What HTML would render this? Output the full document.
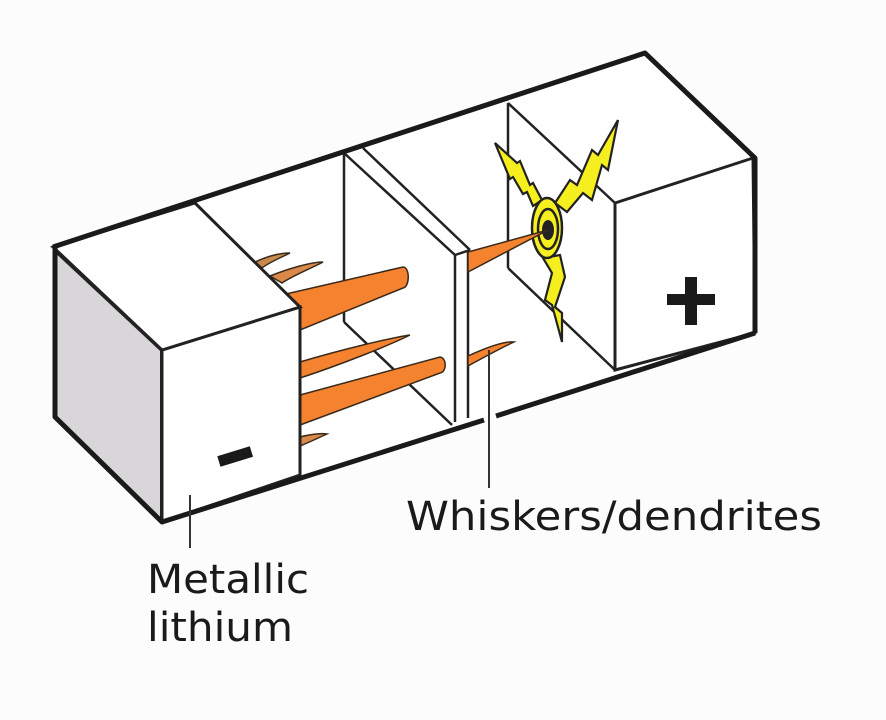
<!DOCTYPE html>
<html><head><style>html,body{margin:0;padding:0;background:#fcfcfc;}svg{display:block}</style></head>
<body>
<svg width="886" height="720" viewBox="0 0 886 720" xmlns="http://www.w3.org/2000/svg">
<rect width="886" height="720" fill="#fcfcfc"/>
<polygon points="53,247 645,53 755,158 755,333 162,522 55,417" fill="#fff"/>
<g stroke="#222" stroke-width="2.5" fill="none">
<line x1="344" y1="153" x2="344" y2="322"/>
<line x1="344" y1="322" x2="452" y2="425"/>
<line x1="344" y1="153" x2="455" y2="255"/>
<line x1="363" y1="148" x2="470" y2="250"/>
<line x1="455" y1="255" x2="470" y2="250"/>
<line x1="455" y1="255" x2="455" y2="422"/>
<line x1="468" y1="250" x2="468" y2="418"/>
<line x1="508" y1="103" x2="508" y2="268"/>
<line x1="508" y1="103" x2="615" y2="203"/>
<line x1="508" y1="268" x2="615" y2="370"/>
</g>
<g fill="#f5822f" stroke="#3a2a1a" stroke-width="1.5">
<path d="M468,356 C490,346 505,341 514,342 C505,346 490,354 468,366 Z"/>
</g>
<g fill="#f5ef1f" stroke="#222" stroke-width="2.2" stroke-linejoin="miter">
<polygon points="495,143 517,163 520,161 530,185 533,183 542,200 533,206 527,192 523,194 513,177 510,179"/>
<polygon points="618,120 608,170 602,165 592,200 583,193 567,212 555,203 570,180 577,185 592,150 598,155"/>
<polygon points="543,258 552,273 545,300 552,305 562,342 562,313 555,307 565,277 560,255"/>
</g>
<ellipse cx="547" cy="228" rx="15" ry="30" fill="#f5ef1f" stroke="#222" stroke-width="2.5"/>
<ellipse cx="548" cy="229" rx="10" ry="20" fill="#f5ef1f" stroke="#222" stroke-width="2.5"/>
<ellipse cx="548" cy="230" rx="6" ry="10" fill="#222"/>
<path d="M468,252 L548,230 L468,272 Z" fill="#f5822f" stroke="#3a2a1a" stroke-width="1.5"/>
<g fill="#f5822f" stroke="#3a2a1a" stroke-width="1.5">
<path d="M255,262 C268,256 280,253 290,253 C280,258 268,263 262,268 Z" fill="#c98a50"/>
<path d="M270,276 C290,268 312,262 323,262 C312,268 292,276 282,283 Z" fill="#d9894a"/>
<path d="M286,294 L403,267 C410,267 410,287 403,288 L300,330 Z"/>
<path d="M300,362 C340,350 390,338 410,335 C390,345 340,365 300,378 Z"/>
<path d="M300,395 L440,357 C447,358 447,372 440,373 L300,425 Z"/>
<path d="M300,437 C312,434 320,433 327,434 C318,438 310,442 300,446 Z" fill="#d9894a"/>
</g>
<polygon points="55,250 162,350 162,522 55,417" fill="#d8d6d8" stroke="#222" stroke-width="4" stroke-linejoin="round"/>
<polygon points="162,350 300,307 300,475 162,522" fill="#fff" stroke="#222" stroke-width="3"/>
<polygon points="53,247 195,203 300,307 162,350" fill="#fff" stroke="#222" stroke-width="3"/>
<line x1="300" y1="307" x2="300" y2="475" stroke="#222" stroke-width="3"/>
<rect x="218" y="451" width="34" height="11" fill="#1a1a1a" transform="rotate(-17 235 456)"/>
<polygon points="615,203 753,158 755,333 615,370" fill="#fff" stroke="#222" stroke-width="3"/>
<rect x="667" y="294" width="48" height="11" fill="#1a1a1a"/>
<rect x="685" y="277" width="12" height="48" fill="#1a1a1a"/>
<g stroke="#1a1a1a" stroke-width="5" fill="none" stroke-linejoin="round">
<path d="M53,247 L645,53 L755,158 L755,333"/>
<path d="M55,248 L55,417 L162,522 L484,420"/>
<path d="M496,416 L755,333"/>
</g>
<line x1="190" y1="495" x2="190" y2="548" stroke="#333" stroke-width="2"/>
<line x1="489" y1="350" x2="489" y2="488" stroke="#333" stroke-width="2"/>
<g font-family="'DejaVu Sans','Liberation Sans',sans-serif" fill="#1a1a1a" font-size="40">
<text x="406" y="530" textLength="416" lengthAdjust="spacingAndGlyphs">Whiskers/dendrites</text>
<text x="147" y="593" textLength="162" lengthAdjust="spacingAndGlyphs">Metallic</text>
<text x="147" y="641" textLength="146" lengthAdjust="spacingAndGlyphs">lithium</text>
</g>
</svg>
</body></html>
